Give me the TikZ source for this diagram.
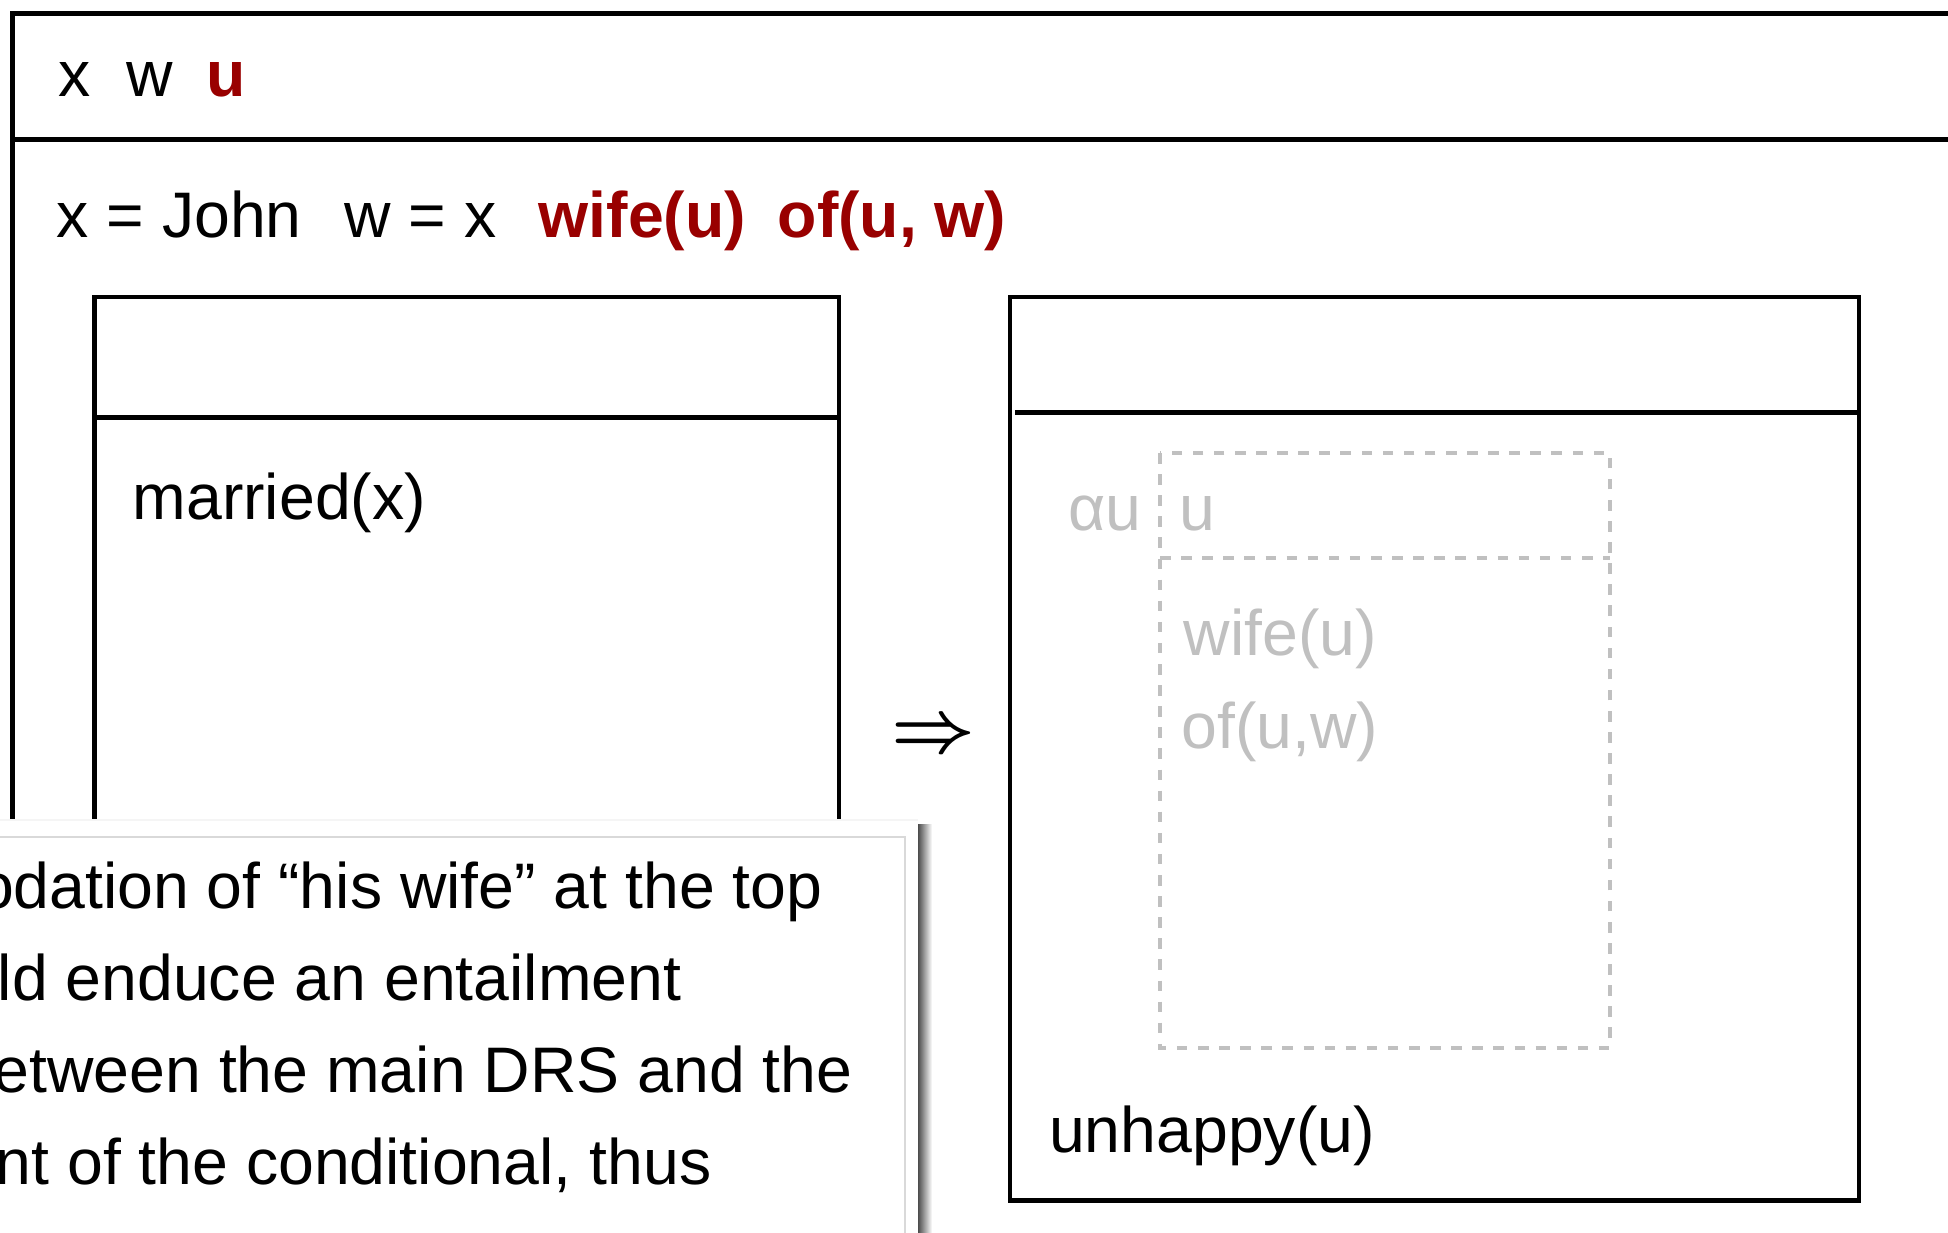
\documentclass[tikz,border=0pt]{standalone}
\usepackage{bm}
\usepackage{fontspec}
\setmainfont{Liberation Sans}
\definecolor{drsred}{RGB}{153,0,0}
\definecolor{ghost}{RGB}{192,192,192}
\tikzset{
    drsline/.style={line width=1.4pt},
    ghostline/.style={ghost,line width=1.3pt,dash pattern=on 3pt off 3pt},
    txt/.style={anchor=base west,inner sep=0pt,font=\fontsize{18.3}{22}\selectfont},
    newtxt/.style={txt,drsred,font=\fontsize{18.3}{22}\selectfont\bfseries},
    fadedtxt/.style={txt,ghost},
    notetxt/.style={anchor=base east,inner sep=0pt,font=\fontsize{18.3}{22}\selectfont},
}
\begin{document}
\begin{tikzpicture}[x=0.01cm,y=-0.01cm]
    \useasboundingbox (0,0) rectangle (1948,1232);
    \clip (0,0) rectangle (1948,1232);
    % main DRS
    \draw[drsline] (2000,13.8) -- (12.5,13.8) -- (12.5,1300);
    \draw[drsline] (12.5,139.2) -- (2000,139.2);
    \node[txt] (ux) at (58,96) {x};
    \node[txt] (uw) at (126,96) {w};
    \node[newtxt] (uu) at (206,96) {u};
    \node[txt] (cjohn) at (56,237) {x = John};
    \node[txt] (cwx) at (344,237) {w = x};
    \node[newtxt] (cwife) at (538,237) {wife(u)};
    \node[newtxt] (cof) at (777,237) {of(u, w)};
    % antecedent and consequent
    \draw[drsline] 
        (94.5,297) rectangle (839,1200)
        (94.5,417.5) -- (839,417.5);
    \draw[drsline] 
        (1010,297) rectangle (1859,1200.5)
        (1015,412.5) -- (1859,412.5);
    \node[txt] (married) at (132,519) {married(x)};
    \node[inner sep=0pt,anchor=base,font=\fontsize{22.5}{26}\selectfont] (impl) at (933,751) {$\bm{\Rightarrow}$};
    % accommodated DRS
    \draw[ghostline] 
        (1160,453) rectangle (1610,1048)
        (1160,558) -- (1610,558);
    \node[fadedtxt] (alpha) at (1068,530) {αu};
    \node[fadedtxt] (gu) at (1178.5,530) {u};
    \node[fadedtxt] (gwife) at (1183,655) {wife(u)};
    \node[fadedtxt] (gof) at (1181,748) {of(u,w)};
    \node[txt] (unhappy) at (1048.5,1152) {unhappy(u)};
    % note
    \fill[white] (-10,820) rectangle (918,1250);
    \draw[gray!8] (-10,820) -- (918,820);
    \draw[gray!30,line width=0.6pt] (-10,837) -- (905,837) -- (905,1250);
    \shade[left color=black!70,right color=white] (918,824) rectangle (932,1250);
    \foreach \line/\xe/\yb [count=\i] in {
        {odation of “his wife” at the top}/823/908,
        {ld enduce an entailment}/682/1000,
        {etween the main DRS and the}/853/1092,
        {nt of the conditional, thus}/712/1184} {
        \node[notetxt] (note\i) at (\xe,\yb) {\line};
    }
\end{tikzpicture}
\end{document}
